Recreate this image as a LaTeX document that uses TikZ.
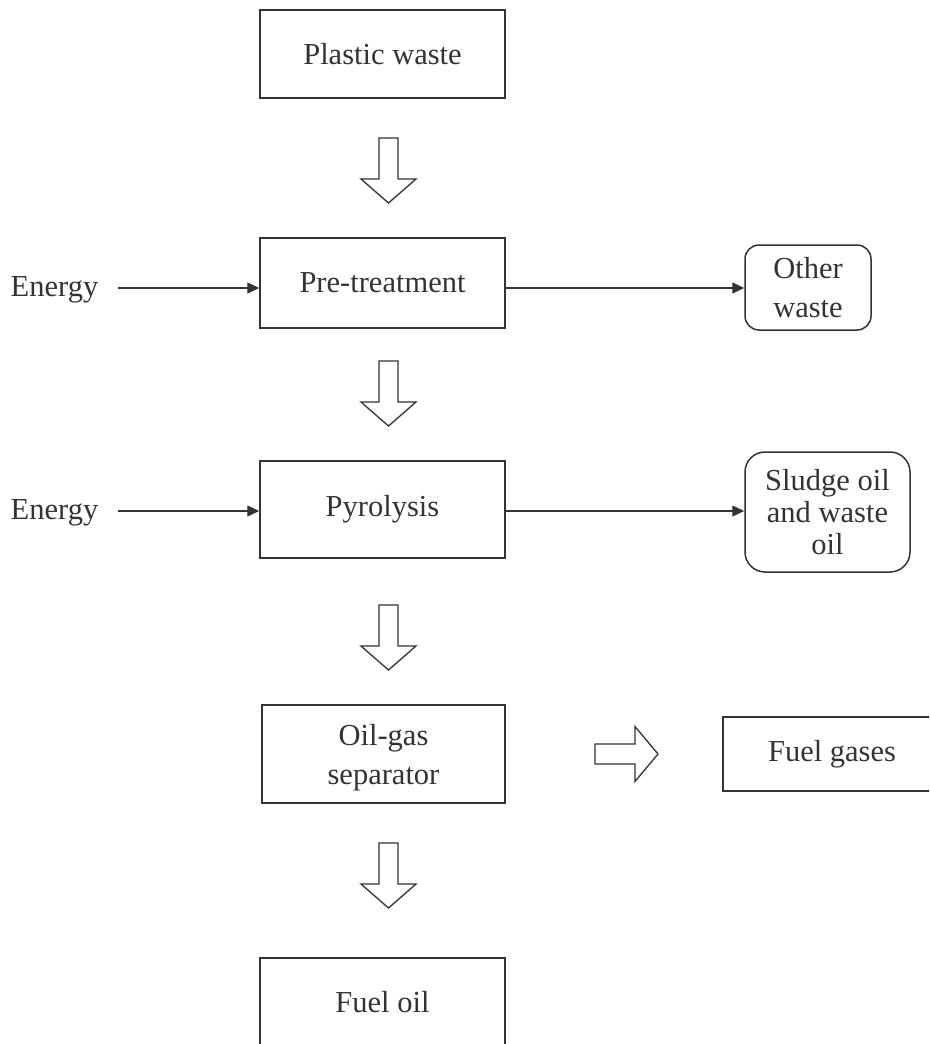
\documentclass[tikz,border=0pt]{standalone}
\usepackage{fontspec}
\setmainfont{Liberation Serif}
\usetikzlibrary{arrows.meta}
\definecolor{ink}{HTML}{333333}
\begin{document}
\begin{tikzpicture}[x=1pt, y=-1pt,
  font=\fontsize{30.5}{39}\selectfont,
  stagebox/.style={draw=ink, line width=1.5pt, text=ink, align=center, inner sep=0pt},
  outbox/.style={stagebox, rounded corners=#1},
  lbl/.style={text=ink, inner sep=0pt},
  flow/.style={draw=ink, line width=1.4pt, -{Triangle[length=12pt,width=11pt]}},
  blk/.style={draw=ink, line width=1.3pt, line join=miter, fill=white},
  downblk/.pic={\draw[blk] (-9.5,0) -- (9.5,0) -- (9.5,41) -- (27.5,41) -- (0,65) -- (-27.5,41) -- (-9.5,41) -- cycle;},
  rightblk/.pic={\draw[blk] (0,-10) -- (40,-10) -- (40,-27.5) -- (63,0) -- (40,27.5) -- (40,10) -- (0,10) -- cycle;}
]
\useasboundingbox (0,0) rectangle (929,1044);
\clip (0,0) rectangle (929,1044);

% main column
\node[stagebox, minimum width=245pt, minimum height=88pt] (pw) at (382.5,54) {Plastic waste};
\node[stagebox, minimum width=245pt, minimum height=90pt] (pt) at (382.5,283) {Pre-treatment};
\node[stagebox, minimum width=245pt, minimum height=97pt] (py) at (382.5,509.5) {Pyrolysis};
\node[stagebox, minimum width=243pt, minimum height=98pt, text depth=0pt] (og) at (383.5,754) {Oil-gas\\separator};
\node[stagebox, minimum width=245pt, minimum height=88pt] (fo) at (382.5,1002) {Fuel oil};

% side outputs
\node[outbox=14pt, minimum width=126pt, minimum height=85pt] (ow) at (808,287.5) {Other\\waste};
\node[outbox=20pt, minimum width=165pt, minimum height=120pt, font=\fontsize{30.5}{32}\selectfont] (sl) at (827.5,512) {Sludge oil\\and waste\\oil};
\node[stagebox, minimum width=218pt, minimum height=74pt] (fg) at (832,754) {Fuel gases};

% energy inputs
\node[lbl] (e1) at (54.5,290) {Energy};
\node[lbl] (e2) at (54.5,513) {Energy};

% connectors
\draw[flow, shorten <=20pt] (e1.east) ++(0,-2) coordinate (e1s) (e1s) -- (e1s -| pt.west);
\draw[flow, shorten <=20pt] (e2.east) ++(0,-2) coordinate (e2s) (e2s) -- (e2s -| py.west);
\draw[flow] (pt.east |- e1s) -- (ow.west |- e1s);
\draw[flow] (py.east |- e2s) -- (sl.west |- e2s);

% block arrows
\pic at (388.5,138) {downblk};
\pic at (388.5,361) {downblk};
\pic at (388.5,605) {downblk};
\pic at (388.5,843) {downblk};
\pic at (595,754) {rightblk};
\end{tikzpicture}
\end{document}
